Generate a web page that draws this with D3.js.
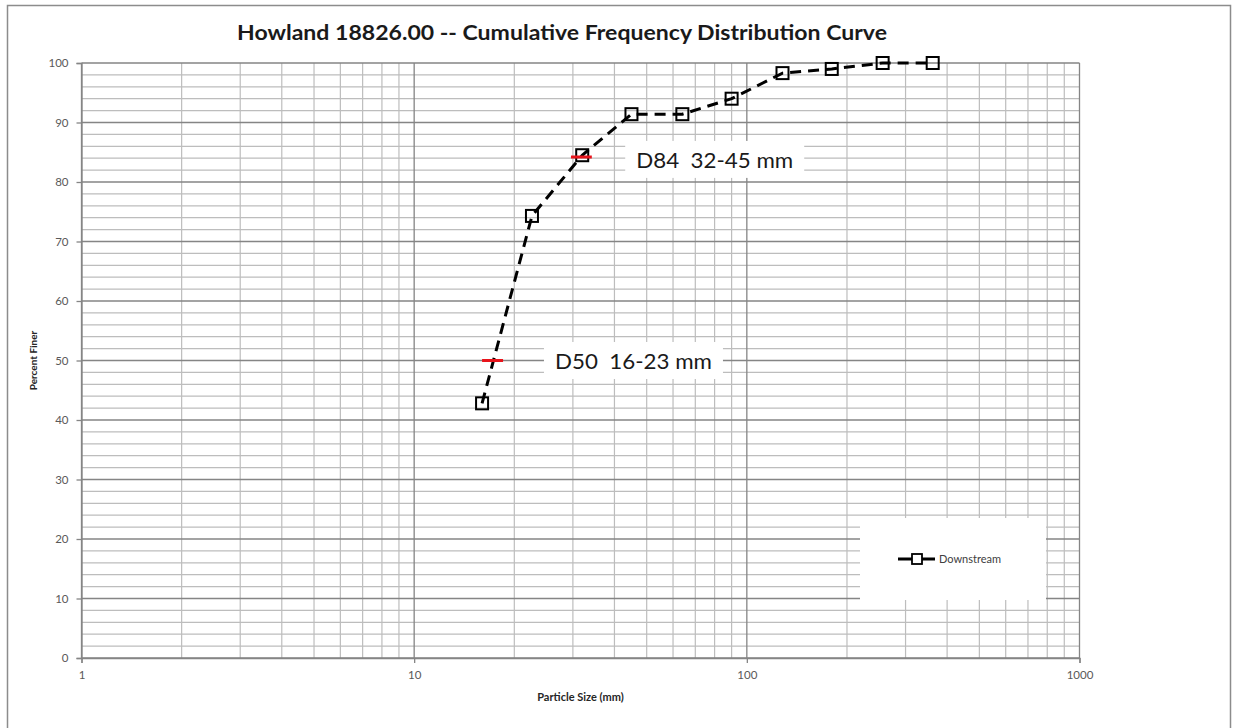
<!DOCTYPE html>
<html>
<head>
<meta charset="utf-8">
<script src="https://cdn.jsdelivr.net/npm/d3@7"></script>
<style>
  body { margin: 0; background: #fff; }
  svg { display: block; }
  .dlabel { white-space: pre; }
</style>
</head>
<body>
<div id="chart"></div>
<script>
const width = 1233
const height = 728

// data
const particleSize = [16, 22.6, 32, 45, 64, 90, 128, 180, 256, 362]
const percentFiner = [42.8, 74.3, 84.5, 91.4, 91.4, 94.0, 98.3, 99.0, 100, 100]
const xTicks = [1, 10, 100, 1000]
const yTicks = [0, 10, 20, 30, 40, 50, 60, 70, 80, 90, 100]
const seriesName = 'Downstream'
const titleText = 'Howland 18826.00 -- Cumulative Frequency Distribution Curve'

// D-value markers (red) and their labels
const dMarks = [
    {label: 'D84  32-45 mm', y: 84.2, x0: 29.6, x1: 34.2, tx: 46.5, ty: 83.7},
    {label: 'D50  16-23 mm', y: 50, x0: 16, x1: 18.5, tx: 26.5, ty: 49.9}
]

const margin = {left: 81.5, right: 1079.5, top: 63, bottom: 658}

const x = d3.scaleLog().domain([1, 1000]).range([margin.left, margin.right])
const y = d3.scaleLinear().domain([0, 100]).range([margin.bottom, margin.top])

const font = "Lato, 'Open Sans', sans-serif"

let svg = d3.select('#chart')
    .append('svg')
    .attr('width', width)
    .attr('height', height)
    .style('font-family', font)

// outer chart frame
svg.append('rect')
    .attr('x', 7.5).attr('y', 5.5)
    .attr('width', 1223).attr('height', 730)
    .attr('fill', 'white')
    .attr('stroke', '#8c8c8c')
    .attr('stroke-width', 1.5)

// grid: minor first, major on top
let grid = svg.append('g')

let minorX = []
for (let d = 1; d < 1000; d *= 10) {
    for (let k = 2; k < 10; k++) minorX.push(d * k)
}
grid.selectAll('.mx')
    .data(minorX)
    .join('line')
    .attr('x1', d => x(d)).attr('x2', d => x(d))
    .attr('y1', y(0)).attr('y2', y(100))
    .attr('stroke', '#bdbdbd')
    .attr('stroke-width', 1.2)

let minorY = d3.range(0, 101, 2).filter(v => v % 10 != 0)
grid.selectAll('.my')
    .data(minorY)
    .join('line')
    .attr('x1', x(1)).attr('x2', x(1000))
    .attr('y1', d => y(d)).attr('y2', d => y(d))
    .attr('stroke', '#bdbdbd')
    .attr('stroke-width', 1.2)

grid.selectAll('.Mx')
    .data(xTicks)
    .join('line')
    .attr('x1', d => x(d)).attr('x2', d => x(d))
    .attr('y1', y(0)).attr('y2', y(100))
    .attr('stroke', '#858585')
    .attr('stroke-width', 1.3)

grid.selectAll('.My')
    .data(yTicks)
    .join('line')
    .attr('x1', x(1)).attr('x2', x(1000))
    .attr('y1', d => y(d)).attr('y2', d => y(d))
    .attr('stroke', '#858585')
    .attr('stroke-width', 1.3)

// axes
let xAxis = svg.append('g')
    .attr('transform', `translate(0,${y(0)})`)
    .call(d3.axisBottom(x).tickValues(xTicks).tickFormat(d3.format('d')).tickSize(5).tickPadding(8))
let yAxis = svg.append('g')
    .attr('transform', `translate(${x(1)},0)`)
    .call(d3.axisLeft(y).tickValues(yTicks).tickSize(5).tickPadding(8))

for (let ax of [xAxis, yAxis]) {
    ax.select('.domain').attr('stroke', '#858585').attr('stroke-width', 1.3)
    ax.selectAll('.tick line').attr('stroke', '#858585').attr('stroke-width', 1.3)
    ax.selectAll('.tick text')
        .attr('fill', '#595959')
        .style('font-family', font)
        .style('font-size', '11.5px')
}

// axis titles
svg.append('text')
    .attr('x', (x(1) + x(1000)) / 2)
    .attr('y', 701)
    .attr('text-anchor', 'middle')
    .attr('font-size', 11)
    .attr('font-weight', 'bold')
    .attr('fill', '#262626')
    .text('Particle Size (mm)')

svg.append('text')
    .attr('transform', `translate(37,${y(50)}) rotate(-90)`)
    .attr('text-anchor', 'middle')
    .attr('font-size', 10)
    .attr('font-weight', 'bold')
    .attr('fill', '#262626')
    .text('Percent Finer')

// title
svg.append('text')
    .attr('x', 562)
    .attr('y', 40)
    .attr('text-anchor', 'middle')
    .attr('font-size', 20)
    .attr('font-weight', 'bold')
    .attr('fill', '#1a1a1a')
    .attr('textLength', 650)
    .attr('lengthAdjust', 'spacingAndGlyphs')
    .text(titleText)

// D labels with white background boxes
let labels = svg.append('g')
dMarks.forEach(m => {
    let g = labels.append('g')
    let t = g.append('text')
        .attr('class', 'dlabel')
        .attr('x', x(m.tx))
        .attr('y', y(m.ty))
        .attr('dy', '0.36em')
        .attr('font-size', 22)
        .attr('fill', '#1a1a1a')
        .attr('textLength', 157)
        .attr('lengthAdjust', 'spacingAndGlyphs')
        .text(m.label)
    let bb = t.node().getBBox()
    g.insert('rect', 'text')
        .attr('x', bb.x - 11)
        .attr('y', bb.y - 5)
        .attr('width', bb.width + 22)
        .attr('height', bb.height + 10)
        .attr('fill', 'white')
})

// legend box
let legend = svg.append('g')
legend.append('rect')
    .attr('x', 860).attr('y', 518)
    .attr('width', 186).attr('height', 82)
    .attr('fill', 'white')
legend.append('line')
    .attr('x1', 898).attr('x2', 935)
    .attr('y1', 559).attr('y2', 559)
    .attr('stroke', 'black')
    .attr('stroke-width', 3)
legend.append('rect')
    .attr('x', 912).attr('y', 554)
    .attr('width', 10).attr('height', 10)
    .attr('fill', 'white')
    .attr('stroke', 'black')
    .attr('stroke-width', 1.8)
legend.append('text')
    .attr('x', 939).attr('y', 559)
    .attr('dy', '0.35em')
    .attr('font-size', 11)
    .attr('fill', '#404040')
    .text(seriesName)

// series
let points = particleSize.map((s, i) => ({x: s, y: percentFiner[i]}))

let line = d3.line()
    .x(d => x(d.x))
    .y(d => y(d.y))

svg.append('path')
    .datum(points)
    .attr('d', line)
    .attr('fill', 'none')
    .attr('stroke', 'black')
    .attr('stroke-width', 3)
    .attr('stroke-dasharray', '11,7')

svg.append('g')
    .selectAll('rect')
    .data(points)
    .join('rect')
    .attr('x', d => x(d.x) - 6)
    .attr('y', d => y(d.y) - 6)
    .attr('width', 12)
    .attr('height', 12)
    .attr('fill', 'none')
    .attr('stroke', 'black')
    .attr('stroke-width', 2)

// red D-value ticks
svg.append('g')
    .selectAll('line')
    .data(dMarks)
    .join('line')
    .attr('x1', d => x(d.x0)).attr('x2', d => x(d.x1))
    .attr('y1', d => y(d.y)).attr('y2', d => y(d.y))
    .attr('stroke', '#e8141b')
    .attr('stroke-width', 3)
</script>
</body>
</html>
